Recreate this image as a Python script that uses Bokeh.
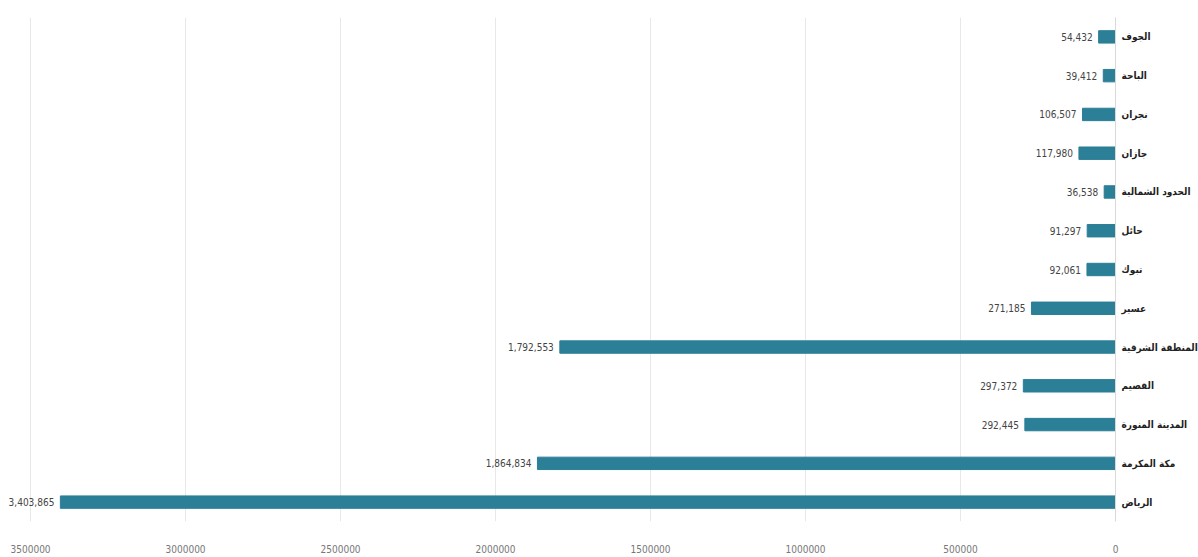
from bokeh.plotting import figure
from bokeh.models import FactorRange, Range1d, FixedTicker, NumeralTickFormatter, ColumnDataSource
from bokeh.core.properties import value
from bokeh.embed import file_html
from bokeh.resources import INLINE

regions = ["الجوف", "الباحة", "نجران", "جازان", "الحدود الشمالية", "حائل", "تبوك",
           "عسير", "المنطقة الشرقية", "القصيم", "المدينة المنورة", "مكة المكرمة", "الرياض"]
population = [54432, 39412, 106507, 117980, 36538, 91297, 92061,
              271185, 1792553, 297372, 292445, 1864834, 3403865]
x_ticks = [0, 500000, 1000000, 1500000, 2000000, 2500000, 3000000, 3500000]

labels = [f"{v:,}" for v in population]
src = ColumnDataSource(dict(region=regions, pop=population, label=labels))

FONT = "'Liberation Sans Narrow', 'DejaVu Sans Condensed', 'Roboto', sans-serif"
BAR = "#2b7f97"

p = figure(frame_width=1115, frame_height=504, output_backend="svg", toolbar_location=None,
           y_range=FactorRange(*reversed(regions)), x_range=Range1d(3597000, 0),
           y_axis_location="right", min_border_left=0, min_border_top=17,
           min_border_bottom=35, min_border_right=0)
p.y_range.range_padding = 0
p.outline_line_color = None

p.hbar(y="region", left=0, right="pop", height=0.32, color=BAR, source=src)
p.text(x="pop", y="region", text="label", source=src, x_offset=-6,
       text_align="right", text_baseline="middle", text_font=value(FONT),
       text_font_size="10px", text_color="#444444")

p.xaxis.ticker = FixedTicker(ticks=x_ticks)
p.xaxis.formatter = NumeralTickFormatter(format="0")
p.xaxis.axis_line_color = None
p.xaxis.major_tick_line_color = None
p.xaxis.minor_tick_line_color = None
p.xaxis.major_tick_out = 0
p.xaxis.major_tick_in = 0
p.xaxis.major_label_text_font = FONT
p.xaxis.major_label_text_font_size = "10px"
p.xaxis.major_label_text_color = "#777777"
p.xaxis.major_label_standoff = 23

p.yaxis.axis_line_color = "#d9d9d9"
p.yaxis.major_tick_line_color = None
p.yaxis.minor_tick_line_color = None
p.yaxis.major_tick_out = 0
p.yaxis.major_tick_in = 0
p.yaxis.major_label_text_font = FONT
p.yaxis.major_label_text_font_size = "10px"
p.yaxis.major_label_text_font_style = "bold"
p.yaxis.major_label_text_color = "#222222"
p.yaxis.major_label_standoff = 6

p.xgrid.grid_line_color = "#e8e8e8"
p.xgrid.ticker = FixedTicker(ticks=x_ticks)
p.ygrid.grid_line_color = None

open("out.html", "w").write(file_html(p, INLINE))
